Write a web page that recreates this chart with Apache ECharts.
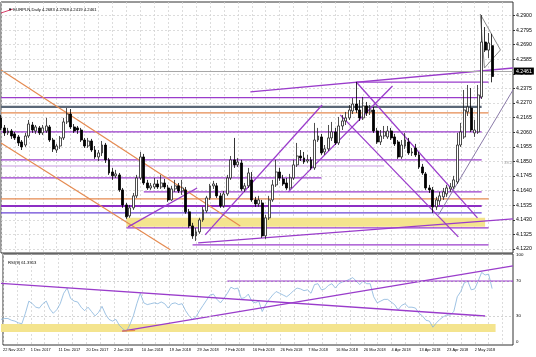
<!DOCTYPE html>
<html><head><meta charset="utf-8">
<script src="https://cdn.jsdelivr.net/npm/echarts@6/dist/echarts.min.js"></script>
<style>html,body{margin:0;padding:0;background:#fff}#c{width:536px;height:357px}</style>
</head><body><div id="c"></div>
<script>
// ---- data ----
const labelDates = ['22 Nov 2017','1 Dec 2017','11 Dec 2017','20 Dec 2017','2 Jan 2018','10 Jan 2018','19 Jan 2018','29 Jan 2018','7 Feb 2018','16 Feb 2018','26 Feb 2018','7 Mar 2018','16 Mar 2018','26 Mar 2018','4 Apr 2018','13 Apr 2018','23 Apr 2018','2 May 2018'];
const slotCount = 148;
// [open, close, low, high]
const ohlc = [
[4.2163,4.2091,4.2076,4.2184],[4.2091,4.2055,4.2033,4.2112],[4.2055,4.2069,4.2040,4.2091],[4.2069,4.2033,4.2012,4.2083],
[4.2048,4.2019,4.2004,4.2062],[4.2026,4.1983,4.1961,4.2040],[4.1990,4.1954,4.1932,4.2004],[4.1968,4.2033,4.1954,4.2055],
[4.2033,4.2119,4.2019,4.2148],[4.2112,4.2076,4.2055,4.2134],[4.2069,4.2098,4.2048,4.2112],[4.2091,4.2055,4.2040,4.2105],
[4.2055,4.2091,4.2040,4.2112],[4.2069,4.2105,4.2055,4.2163],[4.2098,4.2004,4.1990,4.2112],[4.2004,4.1940,4.1918,4.2019],
[4.1932,4.1961,4.1911,4.1976],[4.1961,4.2019,4.1940,4.2033],[4.2019,4.2134,4.2004,4.2163],[4.2134,4.2191,4.2119,4.2234],
[4.2191,4.2098,4.2083,4.2227],[4.2098,4.2069,4.2055,4.2119],[4.2091,4.2076,4.2048,4.2105],[4.2076,4.2004,4.1990,4.2091],
[4.2004,4.1961,4.1947,4.2019],[4.1961,4.1997,4.1947,4.2019],[4.1997,4.1932,4.1918,4.2012],[4.1932,4.1882,4.1868,4.1961],
[4.1882,4.1911,4.1853,4.1932],[4.1911,4.1968,4.1889,4.1997],[4.1968,4.1861,4.1839,4.1983],[4.1861,4.1767,4.1753,4.1875],
[4.1774,4.1746,4.1717,4.1803],[4.1746,4.1760,4.1731,4.1789],[4.1753,4.1645,4.1631,4.1767],[4.1645,4.1537,4.1516,4.1659],
[4.1537,4.1451,4.1437,4.1551],[4.1458,4.1516,4.1444,4.1537],[4.1516,4.1602,4.1501,4.1623],[4.1602,4.1731,4.1587,4.1753],
[4.1731,4.1882,4.1717,4.1918],[4.1882,4.1695,4.1681,4.1904],[4.1695,4.1659,4.1645,4.1717],[4.1659,4.1674,4.1645,4.1695],
[4.1666,4.1688,4.1652,4.1731],[4.1688,4.1666,4.1652,4.1717],[4.1666,4.1695,4.1652,4.1753],[4.1695,4.1666,4.1652,4.1724],
[4.1659,4.1573,4.1559,4.1681],[4.1573,4.1652,4.1566,4.1674],[4.1652,4.1674,4.1631,4.1717],[4.1674,4.1638,4.1623,4.1695],
[4.1638,4.1659,4.1609,4.1717],[4.1645,4.1487,4.1473,4.1666],[4.1487,4.1386,4.1372,4.1508],[4.1386,4.1314,4.1293,4.1408],
[4.1314,4.1343,4.1278,4.1372],[4.1343,4.1429,4.1329,4.1444],[4.1429,4.1501,4.1415,4.1523],[4.1494,4.1587,4.1480,4.1602],
[4.1587,4.1674,4.1573,4.1688],[4.1674,4.1688,4.1652,4.1710],[4.1674,4.1602,4.1587,4.1695],[4.1602,4.1530,4.1516,4.1623],
[4.1530,4.1616,4.1516,4.1638],[4.1616,4.1731,4.1602,4.1753],[4.1731,4.1861,4.1717,4.1889],[4.1861,4.1825,4.1803,4.2019],
[4.1825,4.1846,4.1810,4.1875],[4.1839,4.1652,4.1638,4.1861],[4.1652,4.1674,4.1631,4.1695],[4.1674,4.1767,4.1659,4.1803],
[4.1717,4.1573,4.1559,4.1774],[4.1573,4.1544,4.1523,4.1595],[4.1544,4.1573,4.1523,4.1602],[4.1551,4.1314,4.1300,4.1573],
[4.1314,4.1444,4.1293,4.1465],[4.1444,4.1573,4.1429,4.1602],[4.1573,4.1681,4.1559,4.1717],[4.1681,4.1774,4.1666,4.1861],
[4.1774,4.1731,4.1710,4.1803],[4.1724,4.1688,4.1674,4.1753],[4.1695,4.1659,4.1645,4.1731],[4.1659,4.1731,4.1645,4.1760],
[4.1731,4.1825,4.1717,4.1861],[4.1825,4.1889,4.1810,4.1983],[4.1889,4.1875,4.1853,4.1932],[4.1875,4.1846,4.1832,4.1918],
[4.1853,4.1861,4.1839,4.1897],[4.1861,4.1803,4.1789,4.1882],[4.1803,4.2004,4.1789,4.2127],[4.2004,4.2033,4.1990,4.2091],
[4.2026,4.1911,4.1897,4.2048],[4.1918,4.1940,4.1897,4.1968],[4.1940,4.2019,4.1925,4.2112],[4.2019,4.2062,4.1997,4.2134],
[4.2062,4.1983,4.1968,4.2091],[4.1983,4.2105,4.1968,4.2170],[4.2105,4.2141,4.2076,4.2184],[4.2141,4.2163,4.2112,4.2206],
[4.2163,4.2220,4.2148,4.2256],[4.2213,4.2263,4.2191,4.2306],[4.2263,4.2220,4.2199,4.2421],[4.2220,4.2163,4.2141,4.2292],
[4.2163,4.2249,4.2148,4.2314],[4.2249,4.2199,4.2177,4.2278],[4.2206,4.2220,4.2184,4.2256],[4.2220,4.2069,4.2055,4.2242],
[4.2069,4.1990,4.1976,4.2091],[4.1990,4.2033,4.1968,4.2076],[4.2033,4.2062,4.2012,4.2105],[4.2026,4.2069,4.2012,4.2105],
[4.2069,4.2019,4.2004,4.2091],[4.2026,4.1976,4.1961,4.2048],[4.1990,4.1882,4.1868,4.2004],[4.1882,4.1968,4.1868,4.2004],
[4.1961,4.2004,4.1940,4.2055],[4.1990,4.1911,4.1897,4.2019],[4.1911,4.1918,4.1889,4.1947],[4.1947,4.1897,4.1882,4.1976],
[4.1897,4.1810,4.1796,4.1918],[4.1810,4.1767,4.1753,4.1832],[4.1760,4.1659,4.1645,4.1774],[4.1659,4.1645,4.1623,4.1681],
[4.1645,4.1523,4.1480,4.1666],[4.1523,4.1573,4.1501,4.1595],[4.1566,4.1602,4.1537,4.1631],[4.1595,4.1631,4.1573,4.1659],
[4.1616,4.1659,4.1595,4.1681],[4.1652,4.1666,4.1631,4.1695],[4.1666,4.1717,4.1652,4.1746],[4.1702,4.1968,4.1688,4.2055],
[4.1968,4.2062,4.1954,4.2127],[4.2026,4.2220,4.2012,4.2364],[4.2206,4.2242,4.2177,4.2400],[4.2234,4.2076,4.2062,4.2378],
[4.2055,4.2076,4.2026,4.2148],[4.2062,4.2328,4.2048,4.2400],[4.2314,4.2709,4.2299,4.2903],[4.2709,4.2651,4.2637,4.2817],
[4.2651,4.2702,4.2594,4.2774],[4.2683,4.2461,4.2419,4.2768]
];
const rsiValues = [
26,27,27,25,24,22,21,33,47,44,40,39,44,47,38,33,37,44,56,62,50,
47,46,40,36,40,35,30,34,41,32,26,24,26,19,15,12,20,30,44,56,45,
43,44,45,44,46,44,39,44,45,43,44,36,30,26,29,36,42,48,54,55,49,
45,50,56,63,61,62,50,51,55,47,45,47,35,43,49,54,58,56,54,52,55,
59,62,61,59,60,56,66,67,60,61,65,67,62,67,69,70,72,74,70,66,70,
67,67,52,45,47,49,49,46,43,37,42,44,40,40,39,33,30,25,24,17,22,
26,29,31,31,35,52,58,68,70,60,61,70,80,77,78,61.39
];
const priceMin = 4.1191, priceMax = 4.2997;
const tickMin = 4.1220, tickMax = 4.2900, tickStep = 0.0105;
const bidPrice = 4.2461;
const titleText = '\u25BC EURPLN,Daily 4.2683 4.2768 4.2419 4.2461';
const rsiText = 'RSI(9) 61.3913';
// horizontal levels: [price, fromBar, toBar]
const levels = [
 [4.2421,102,140],[4.2309,0,138],[4.2242,0,138],[4.2199,0,140],[4.2062,0,138],[4.1861,0,138],
 [4.1817,0,110],[4.1731,0,92],[4.1631,41,138],[4.1580,0,140],[4.1530,0,138],[4.1480,0,138],
 [4.1372,36,140],[4.1250,55,140]
];
const levelKinds = ['purple','purple','slate','orange','purple','purple','lilac','purple','purple','orange','purpleThick','blue','purple','purple'];
// trend lines: list of [bar, price] points
const trends = [
 [[0,4.2508],[68.7,4.1386]],
 [[0,4.1983],[48.6,4.1214]],
 [[36.5,4.1379],[56.3,4.1659]],
 [[58.6,4.1321],[92.2,4.2256]],
 [[82.5,4.1631],[112.4,4.2393]],
 [[102,4.2421],[136.8,4.1444]],
 [[97.4,4.2185],[131.3,4.1307]],
 [[56.6,4.1264],[147,4.1437]],
 [[71.6,4.2350],[147,4.2522]],
 [[125.6,4.1465],[147,4.2364]],
 [[143.4,4.2652],[137.6,4.2910],[138.8,4.2522],[143.4,4.2652]],
 [[0,4.2918],[3.4,4.2946]]
];
const trendKinds = ['orange','orange','purple','purple','purple','purple','purple','purple','purple','grayPurple','gray','red'];
const band = [[36,4.1444],[139,4.1379]];
const fibLabel = {bar:145.6, price:4.1839, text:'38.2'};
// RSI objects
const rsiTrends = [ [[0,67.5],[139,29.9]], [[34.8,12.6],[147,87.6]], [[65,70],[147,70]], [[34.8,12.6],[38.5,13.4]] ];
const rsiTrendKinds = ['purple','purple','purple','orange'];
const rsiBand = [[0,20.7],[142,11.5]];
const rsiLevels = [30,70];
const rsiLabels = [0,30,70,100];

// ---- styles ----
const palette = {purple:'#9a3ccb', purpleThick:'#8d2fc4', lilac:'#c79ae0', slate:'#5b6878', orange:'#e58a50', blue:'#6a46d6', gray:'#8a8a8a', grayPurple:'#8a7aa8', red:'#d8406a'};
const widths = {purple:1.3, purpleThick:2, lilac:1, slate:2.2, orange:1.2, blue:1.3, gray:1, grayPurple:1, red:1};
const font = 'Liberation Sans';

const cats = [];
for (let i = 0; i < slotCount; i++) {
  const k = Math.floor(i / 8), j = i % 8;
  cats.push(j === 0 && labelDates[k] ? labelDates[k] : 'slot#' + i);
}

const series = [];
series.push({type:'line', xAxisIndex:1, yAxisIndex:0, data:[], silent:true, z:1,
  markArea:{silent:true, itemStyle:{color:'#f4e48e'}, data:[[{coord:band[0]},{coord:band[1]}]]}});
levels.forEach((l, i) => {
  const k = levelKinds[i];
  series.push({type:'line', xAxisIndex:1, yAxisIndex:0, silent:true, symbol:'none', z:3,
    data:[[l[1], l[0]], [l[2], l[0]]], lineStyle:{color:palette[k], width:widths[k]}});
});
trends.forEach((t, i) => {
  const k = trendKinds[i];
  series.push({type:'line', xAxisIndex:1, yAxisIndex:0, silent:true, symbol:'none', z:3,
    data:t, lineStyle:{color:palette[k], width:widths[k]}});
});
series.push({type:'candlestick', xAxisIndex:0, yAxisIndex:0, data:ohlc, barWidth:2.4, z:5,
  itemStyle:{color:'#ffffff', color0:'#000000', borderColor:'#222', borderColor0:'#000', borderWidth:0.8},
  markLine:{silent:true, symbol:'none', animation:false,
    data:[{yAxis:bidPrice}], lineStyle:{color:'#a8a8a8', width:1, type:'solid'},
    label:{position:'end', formatter:bidPrice.toFixed(4), backgroundColor:'#000', color:'#fff', fontSize:5.2, fontFamily:font, padding:[1,2,1,2], distance:1}}});
series.push({type:'scatter', xAxisIndex:1, yAxisIndex:0, clip:false, symbolSize:0, silent:true,
  data:[[fibLabel.bar, fibLabel.price]], label:{show:true, formatter:fibLabel.text, position:'inside', fontSize:4.2, color:'#888', fontFamily:font}});
// RSI
series.push({type:'line', xAxisIndex:3, yAxisIndex:2, data:[], silent:true, z:1,
  markArea:{silent:true, itemStyle:{color:'#f4e48e'}, data:[[{coord:rsiBand[0]},{coord:rsiBand[1]}]]}});
series.push({type:'line', xAxisIndex:4, yAxisIndex:2, data:rsiValues, symbol:'none', silent:true, z:3,
  lineStyle:{color:'#86b4dc', width:0.8},
  markLine:{silent:true, symbol:'none', data:rsiLevels.map(v => ({yAxis:v})), label:{show:false},
    lineStyle:{color:'#c8c8c8', width:0.8, type:[2,2]}}});
rsiTrends.forEach((t, i) => {
  const k = rsiTrendKinds[i];
  series.push({type:'line', xAxisIndex:3, yAxisIndex:2, silent:true, symbol:'none', z:4,
    data:t, lineStyle:{color:palette[k], width:widths[k]}});
});

const gridLine = {show:true, lineStyle:{color:'#d4d4d4', width:0.8, type:[2,2]}};
const option = {
  animation:false,
  backgroundColor:'#ffffff',
  title:[
    {text:titleText, left:3, top:3, textStyle:{fontSize:4.2, fontWeight:'normal', color:'#000', fontFamily:font}},
    {text:rsiText, left:3, top:256, textStyle:{fontSize:4.2, fontWeight:'normal', color:'#000', fontFamily:font}}
  ],
  grid:[
    {left:1, right:23, top:2, height:251, show:true, borderColor:'#333', borderWidth:1, backgroundColor:'transparent'},
    {left:1, right:23, top:15.5, height:233.5},
    {left:1, right:23, top:255, height:87},
    {left:1, right:23, top:254, height:91, show:true, borderColor:'#333', borderWidth:1, backgroundColor:'transparent'}
  ],
  xAxis:[
    {type:'category', gridIndex:0, data:cats, boundaryGap:false, axisLine:{show:false}, axisTick:{show:false}, axisLabel:{show:false},
      splitLine:Object.assign({interval:3}, gridLine)},
    {type:'value', gridIndex:0, min:0, max:slotCount-1, show:false},
    {type:'category', gridIndex:1, data:cats, boundaryGap:false, show:false},
    {type:'value', gridIndex:2, min:0, max:slotCount-1, show:false},
    {type:'category', gridIndex:2, data:cats, boundaryGap:false, show:false},
    {type:'category', gridIndex:3, data:cats, boundaryGap:false, axisLine:{show:false}, axisTick:{show:false},
      axisLabel:{interval:7, align:'left', fontSize:3.9, color:'#000', fontFamily:font, margin:3, showMinLabel:true, hideOverlap:false,
        formatter:v => v.indexOf('#') >= 0 ? '' : v},
      splitLine:Object.assign({interval:3}, gridLine)}
  ],
  yAxis:[
    {type:'value', gridIndex:0, min:priceMin, max:priceMax, show:false},
    {type:'value', gridIndex:1, min:tickMin, max:tickMax, interval:tickStep, position:'right',
      axisLine:{show:false}, axisTick:{show:true, length:2, lineStyle:{color:'#333'}},
      axisLabel:{fontSize:5.2, color:'#000', fontFamily:font, margin:3, formatter:v => v.toFixed(4)},
      splitLine:gridLine},
    {type:'value', gridIndex:2, min:0, max:100, interval:10, position:'right',
      axisLine:{show:false}, axisTick:{show:false}, splitLine:{show:false},
      axisLabel:{fontSize:4.4, color:'#000', fontFamily:font, margin:3,
        formatter:v => rsiLabels.indexOf(Math.round(v)) >= 0 ? String(Math.round(v)) : ''}},
    {type:'value', gridIndex:3, min:0, max:1, show:false}
  ],
  series:series
};
echarts.init(document.getElementById('c'), null, {renderer:'canvas'}).setOption(option);
</script></body></html>
